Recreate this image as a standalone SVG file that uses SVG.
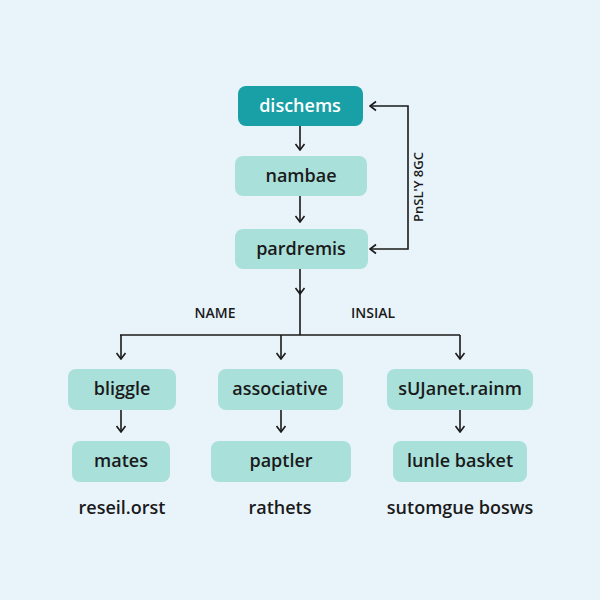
<svg xmlns="http://www.w3.org/2000/svg" width="600" height="600" viewBox="0 0 600 600">
<defs>
<marker id="ah" viewBox="0 0 12 12" refX="11" refY="6" markerWidth="12" markerHeight="12" markerUnits="userSpaceOnUse" orient="auto-start-reverse">
<polyline points="5,1.5 11,6 5,10.5" fill="none" stroke="#1a1a1a" stroke-width="1.6"/>
</marker>
<style>
.bg{fill:#e9f4fa}
.n{fill:#a9e0da}
.top{fill:#18a0a6}
.t{font-family:"Open Sans","Noto Sans",sans-serif;font-size:18px;font-weight:600;fill:#1a1a1a;text-anchor:middle}
.tw{fill:#ffffff}
.c{fill:none;stroke:#1a1a1a;stroke-width:1.6}
.ca{fill:none;stroke:#1a1a1a;stroke-width:1.6;marker-end:url(#ah)}
.lab{font-family:"Open Sans","Noto Sans",sans-serif;font-size:14px;font-weight:600;fill:#1a1a1a;text-anchor:middle}
.bt{font-family:"Open Sans","Noto Sans",sans-serif;font-size:18px;font-weight:600;fill:#1a1a1a;text-anchor:middle}
</style>
</defs>
<rect class="bg" x="0" y="0" width="600" height="600"/>
<g id="connectors">
<line class="ca" x1="300" y1="126" x2="300" y2="150"/>
<line class="ca" x1="300" y1="196" x2="300" y2="222"/>
<line class="ca" x1="300" y1="269" x2="300" y2="294"/>
<line class="c" x1="300" y1="290" x2="300" y2="335"/>
<line class="c" x1="120" y1="335" x2="460" y2="335"/>
<line class="ca" x1="121" y1="335" x2="121" y2="359"/>
<line class="ca" x1="281" y1="335" x2="281" y2="359"/>
<line class="ca" x1="460" y1="335" x2="460" y2="359"/>
<line class="ca" x1="121" y1="410" x2="121" y2="432"/>
<line class="ca" x1="281" y1="410" x2="281" y2="432"/>
<line class="ca" x1="460" y1="410" x2="460" y2="432"/>
<path class="c" d="M370,249 H408 V106 H370" marker-start="url(#ah)" marker-end="url(#ah)"/>
<text class="lab" transform="translate(423,187) rotate(-90)" style="font-size:13px">PnSL'Y 8GC</text>
<text class="lab" x="215" y="318">NAME</text>
<text class="lab" x="373" y="318">INSIAL</text>
</g>
<g id="dischems"><rect class="top" x="238" y="86" width="125" height="40" rx="8"/><text class="t tw" x="300" y="112">dischems</text></g>
<g id="nambae"><rect class="n" x="235" y="156" width="132" height="40" rx="8"/><text class="t" x="301" y="182">nambae</text></g>
<g id="pardremis"><rect class="n" x="235" y="229" width="133" height="40" rx="8"/><text class="t" x="301" y="255">pardremis</text></g>
<g id="bliggle"><rect class="n" x="68" y="369" width="108" height="41" rx="8"/><text class="t" x="122" y="395">bliggle</text></g>
<g id="associative"><rect class="n" x="218" y="369" width="125" height="41" rx="8"/><text class="t" x="280" y="395">associative</text></g>
<g id="sujanet"><rect class="n" x="387" y="369" width="146" height="41" rx="8"/><text class="t" x="460" y="395">sUJanet.rainm</text></g>
<g id="mates"><rect class="n" x="72" y="441" width="98" height="41" rx="8"/><text class="t" x="121" y="467">mates</text></g>
<g id="paptler"><rect class="n" x="211" y="441" width="140" height="41" rx="8"/><text class="t" x="281" y="467">paptler</text></g>
<g id="lunle"><rect class="n" x="393" y="441" width="134" height="41" rx="8"/><text class="t" x="460" y="467">lunle basket</text></g>
<g id="bottom-labels">
<text class="bt" x="122" y="514">reseil.orst</text>
<text class="bt" x="280" y="514">rathets</text>
<text class="bt" x="460" y="514">sutomgue bosws</text>
</g>
</svg>
